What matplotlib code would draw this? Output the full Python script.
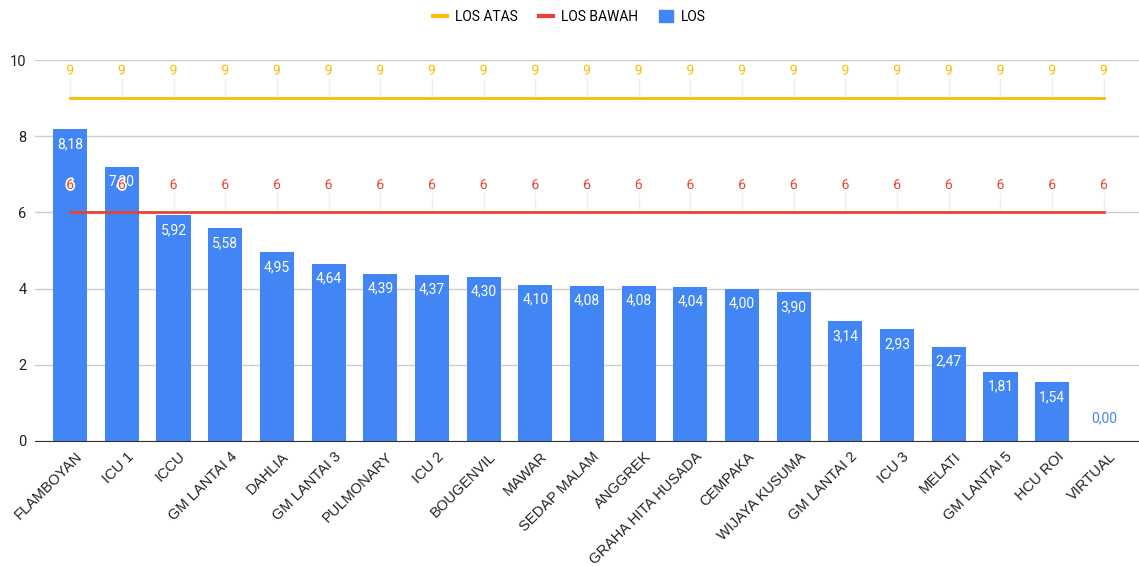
import matplotlib
matplotlib.use("Agg")
import matplotlib.pyplot as plt
import matplotlib.patheffects as pe
import matplotlib.transforms as mtransforms
from matplotlib.lines import Line2D
from matplotlib.patches import Patch

categories = [
    "FLAMBOYAN", "ICU 1", "ICCU", "GM LANTAI 4", "DAHLIA", "GM LANTAI 3",
    "PULMONARY", "ICU 2", "BOUGENVIL", "MAWAR", "SEDAP MALAM", "ANGGREK",
    "GRAHA HITA HUSADA", "CEMPAKA", "WIJAYA KUSUMA", "GM LANTAI 2", "ICU 3",
    "MELATI", "GM LANTAI 5", "HCU ROI", "VIRTUAL",
]
los = [8.18, 7.20, 5.92, 5.58, 4.95, 4.64, 4.39, 4.37, 4.30, 4.10, 4.08,
       4.08, 4.04, 4.00, 3.90, 3.14, 2.93, 2.47, 1.81, 1.54, 0.00]
los_atas = [9] * len(categories)
los_bawah = [6] * len(categories)

BLUE = "#4285F4"
RED = "#EA4335"
YELLOW = "#FBBC04"

plt.rcParams["font.family"] = ["Roboto", "DejaVu Sans"]

fig = plt.figure(figsize=(11.39, 5.66), dpi=100)
ax = fig.add_axes([35 / 1139, 125 / 566, 1104 / 1139, 381 / 566])

x = list(range(len(categories)))
ax.bar(x, los, width=0.66, color=BLUE, zorder=2)
ax.plot(x, los_atas, color=YELLOW, lw=2, zorder=3)
ax.plot(x, los_bawah, color=RED, lw=2, zorder=3)

for xi, v in zip(x, los):
    txt = f"{v:.2f}".replace(".", ",")
    if v > 0.6:
        ax.text(xi, v - 0.38, txt, ha="center", va="center", color="white", fontsize=10, zorder=4)
    else:
        ax.text(xi, v + 0.6, txt, ha="center", va="center", color=BLUE, fontsize=10, zorder=4)

halo = [pe.withStroke(linewidth=2.5, foreground="white")]
for xi, a, b in zip(x, los_atas, los_bawah):
    ax.plot([xi, xi], [a, a + 0.5], color="#eeeeee", lw=1, zorder=1)
    ax.text(xi, a + 0.72, str(a), ha="center", va="center", color=YELLOW, fontsize=10, zorder=4,
            path_effects=halo)
    ax.plot([xi, xi], [b, b + 0.5], color="#eeeeee", lw=1, zorder=1)
    ax.text(xi, b + 0.72, str(b), ha="center", va="center", color=RED, fontsize=10, zorder=5,
            path_effects=halo)

ax.set_xlim(-0.68, 20.68)
ax.set_ylim(0, 10)
ax.set_yticks([0, 2, 4, 6, 8, 10])
ax.grid(axis="y", color="#cccccc", lw=1, zorder=0)
ax.set_axisbelow(True)
for s in ["top", "right", "left"]:
    ax.spines[s].set_visible(False)
ax.spines["bottom"].set_color("#333333")
ax.tick_params(axis="y", length=0, pad=6, labelsize=10.5, labelcolor="#222222")
ax.tick_params(axis="x", length=0, pad=6)
ax.set_xticks(x)
ax.set_xticklabels(categories, rotation=45, ha="right", rotation_mode="anchor",
                   fontsize=10.5, color="#222222", family=["Liberation Sans", "DejaVu Sans"])
shift = mtransforms.ScaledTranslation(5 / 100, 0, fig.dpi_scale_trans)
for lbl in ax.get_xticklabels():
    lbl.set_transform(lbl.get_transform() + shift)

handles = [
    Line2D([], [], color=YELLOW, lw=3),
    Line2D([], [], color=RED, lw=3),
    Patch(color=BLUE),
]
fig.legend(handles, ["LOS ATAS", "LOS BAWAH", "LOS"], loc="center",
           bbox_to_anchor=(0.5, 1 - 17 / 566), ncol=3, frameon=False,
           fontsize=10, handlelength=1.0, handleheight=0.9, columnspacing=1.5,
           handletextpad=0.6)

fig.savefig("out.png", dpi=100)
